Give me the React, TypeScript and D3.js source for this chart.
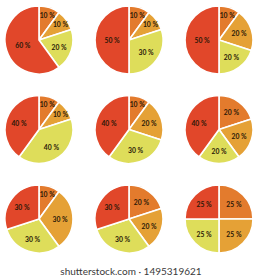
import React, { useEffect, useRef } from "react";
import * as d3 from "d3";

// slice values per pie, clockwise from 12 o'clock
const pieA = [10, 10, 20, 60];
const pieB = [10, 10, 30, 50];
const pieC = [10, 20, 20, 50];
const pieD = [10, 10, 40, 40];
const pieE = [10, 20, 30, 40];
const pieF = [20, 20, 20, 40];
const pieG = [10, 30, 30, 30];
const pieH = [20, 20, 30, 30];
const pieI = [25, 25, 25, 25];

const pies = [pieA, pieB, pieC, pieD, pieE, pieF, pieG, pieH, pieI];
const sliceColors = ["#e37b2d", "#e5a136", "#dedd5a", "#e1472a"];
const caption = "shutterstock.com · 1495319621";

const width = 260;
const height = 280;
const radius = 34;

const App: React.FC = () => {
  const svgRef = useRef<SVGSVGElement>(null);

  useEffect(() => {
    if (svgRef.current === null) return;
    const svg = d3.select(svgRef.current);
    svg.selectAll("*").remove();

    svg.append("rect").attr("width", width).attr("height", height).attr("fill", "#fff");

    const col = d3.scaleLinear().domain([0, 2]).range([39, 219]);
    const row = d3.scaleLinear().domain([0, 2]).range([40, 219]);

    const pie = d3.pie<number>().sort(null).value(d => d);
    const arc = d3.arc<d3.PieArcDatum<number>>().innerRadius(0).outerRadius(radius);

    pies.forEach((values, i) => {
      const g = svg
        .append("g")
        .attr("transform", `translate(${col(i % 3)}, ${row(Math.floor(i / 3))})`);

      const arcs = pie(values);

      g.selectAll("path")
        .data(arcs)
        .enter()
        .append("path")
        .attr("d", arc)
        .attr("fill", (d, j) => sliceColors[j])
        .attr("stroke", "#fff")
        .attr("stroke-width", 1.6)
        .attr("stroke-linejoin", "round");

      // label distance from centre depends on how wide the slice is
      g.selectAll("text")
        .data(arcs)
        .enter()
        .append("text")
        .attr("transform", d => {
          const lr = d.data <= 10 ? radius * 0.78 : d.data >= 50 ? radius * 0.5 : radius * 0.62;
          const a = (d.startAngle + d.endAngle) / 2;
          return `translate(${Math.sin(a) * lr}, ${-Math.cos(a) * lr})`;
        })
        .attr("text-anchor", "middle")
        .attr("dominant-baseline", "central")
        .attr("font-family", "Lato, 'Open Sans', sans-serif")
        .attr("font-weight", "bold")
        .attr("font-size", 6.8)
        .attr("fill", "#2a1808")
        .text(d => `${d.data} %`);
    });

    svg
      .append("text")
      .attr("x", 131)
      .attr("y", 271)
      .attr("text-anchor", "middle")
      .attr("dominant-baseline", "central")
      .attr("font-family", "Lato, 'Open Sans', sans-serif")
      .attr("font-size", 10)
      .attr("fill", "#3a3a3a")
      .text(caption);
  }, []);

  return (
    <svg
      ref={svgRef}
      width={width}
      height={height}
      style={{ position: "absolute", left: 0, top: 0 }}
    />
  );
};

export default App;
